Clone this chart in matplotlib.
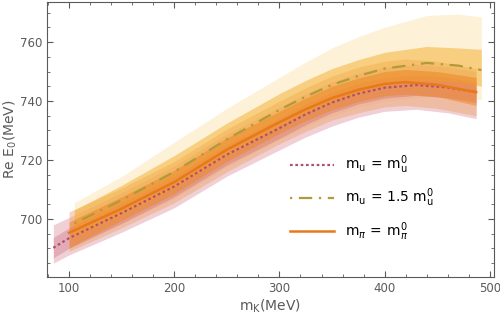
"""
Re E0 vs m_K with uncertainty bands for three parameter choices.
"""

import numpy as np
import matplotlib.pyplot as plt
from matplotlib.ticker import MultipleLocator

# m_u = m_u^0  (dotted)
xa = [85, 100, 150, 200, 250, 300, 325, 350, 375, 400, 430, 460, 487]
ya = [690.2, 693.5, 702.0, 711.0, 721.8, 730.8, 735.5, 739.5, 742.5, 744.5, 745.4, 744.6, 743.0]
ya_lo2 = [685.0, 687.8, 695.5, 703.8, 714.5, 723.4, 727.8, 731.5, 734.5, 736.5, 737.2, 736.0, 734.0]
ya_hi2 = [698.0, 700.5, 709.0, 718.0, 728.8, 737.8, 742.5, 746.5, 749.5, 751.5, 752.4, 751.6, 750.0]
ya_lo1 = [686.8, 690.0, 698.5, 707.5, 718.3, 727.3, 732.0, 736.0, 739.0, 741.0, 741.9, 741.1, 739.5]
ya_hi1 = [693.7, 697.0, 705.5, 714.5, 725.3, 734.3, 739.0, 743.0, 746.0, 748.0, 748.9, 748.1, 746.5]

# m_u = 1.5 m_u^0  (dash-dot)
xb = [105, 150, 200, 250, 300, 325, 350, 375, 400, 440, 470, 492]
yb = [698.5, 706.4, 716.0, 727.0, 737.0, 741.5, 745.5, 748.5, 751.0, 752.9, 752.0, 750.5]
yb_lo2 = [691.5, 698.4, 707.0, 717.5, 727.0, 731.2, 735.0, 737.8, 740.0, 741.5, 741.0, 740.5]
yb_hi2 = [705.5, 714.4, 726.0, 737.5, 748.0, 753.2, 758.0, 761.8, 765.0, 769.0, 769.5, 768.5]
yb_lo1 = [694.0, 701.4, 710.5, 721.5, 731.5, 736.0, 740.0, 743.0, 745.5, 747.0, 746.5, 745.0]
yb_hi1 = [703.0, 711.4, 721.5, 732.5, 742.5, 747.0, 751.0, 754.0, 756.5, 758.5, 758.0, 757.5]

# m_pi = m_pi^0  (solid)
xc = [100, 150, 200, 250, 300, 325, 350, 375, 400, 420, 450, 487]
yc = [695.3, 703.5, 712.5, 723.5, 732.8, 737.2, 741.0, 743.8, 745.8, 746.4, 745.5, 743.0]
yc_lo2 = [689.0, 697.0, 705.5, 716.0, 725.5, 729.7, 733.5, 736.0, 738.0, 738.5, 737.5, 735.0]
yc_hi2 = [702.4, 710.5, 719.5, 730.5, 740.0, 744.5, 748.5, 751.5, 753.5, 754.3, 753.5, 751.0]
yc_lo1 = [690.2, 699.5, 708.5, 719.5, 729.0, 733.3, 737.0, 739.8, 741.8, 742.3, 741.5, 738.5]
yc_hi1 = [699.0, 707.5, 716.5, 727.5, 736.5, 741.0, 745.0, 747.8, 750.0, 750.7, 750.0, 748.0]

GRAY = "#5a5a5a"

fig, ax = plt.subplots(figsize=(5.0, 3.21), dpi=100)
fig.subplots_adjust(left=0.094, right=0.988, bottom=0.137, top=0.994)

# outer bands
ax.fill_between(xb, yb_lo2, yb_hi2, color="#fce4b0", alpha=0.5, lw=0)
ax.fill_between(xa, ya_lo2, ya_hi2, color="#e3a0ad", alpha=0.5, lw=0)
ax.fill_between(xc, yc_lo2, yc_hi2, color="#eda466", alpha=0.45, lw=0)

# inner bands
ax.fill_between(xa, ya_lo1, ya_hi1, color="#c85a6e", alpha=0.3, lw=0)
ax.fill_between(xb, yb_lo1, yb_hi1, color="#f5b43a", alpha=0.55, lw=0)
ax.fill_between(xc, yc_lo1, yc_hi1, color="#ee8520", alpha=0.5, lw=0)

ax.plot(xa, ya, color="#b04f72", lw=1.6, ls=(0, (1.2, 1.2)),
        label=r"$\mathregular{m_u\,=\,m_u^0}$")
ax.plot(xb, yb, color="#b09a3a", lw=1.6, ls=(0, (1, 3, 6, 3)),
        label=r"$\mathregular{m_u\,=\,1.5\;m_u^0}$")
ax.plot(xc, yc, color="#e8781a", lw=1.8,
        label=r"$\mathregular{m}_\pi\,\mathregular{=\,m}_\pi^\mathregular{0}$")

ax.set_xlim(79, 504)
ax.set_ylim(680.3, 773.6)
ax.xaxis.set_major_locator(MultipleLocator(100))
ax.xaxis.set_minor_locator(MultipleLocator(20))
ax.yaxis.set_major_locator(MultipleLocator(20))
ax.yaxis.set_minor_locator(MultipleLocator(5))
ax.tick_params(which="both", direction="in", top=True, right=True,
               color=GRAY, labelcolor=GRAY, labelsize=8.5)
ax.tick_params(which="major", length=4)
ax.tick_params(which="minor", length=2)
for s in ax.spines.values():
    s.set_color(GRAY)

ax.set_xlabel(r"$\mathregular{m_K}$(MeV)", color=GRAY, fontsize=10)
ax.set_ylabel(r"Re $\mathregular{E_0}$(MeV)", color=GRAY, fontsize=10)
ax.xaxis.set_label_coords(0.5, -0.075)
ax.yaxis.set_label_coords(-0.062, 0.5)

leg = ax.legend(loc="lower left", bbox_to_anchor=(0.515, 0.08), frameon=False,
                handlelength=3.2, labelspacing=0.75, fontsize=10)

fig.savefig("out.png", dpi=100)
